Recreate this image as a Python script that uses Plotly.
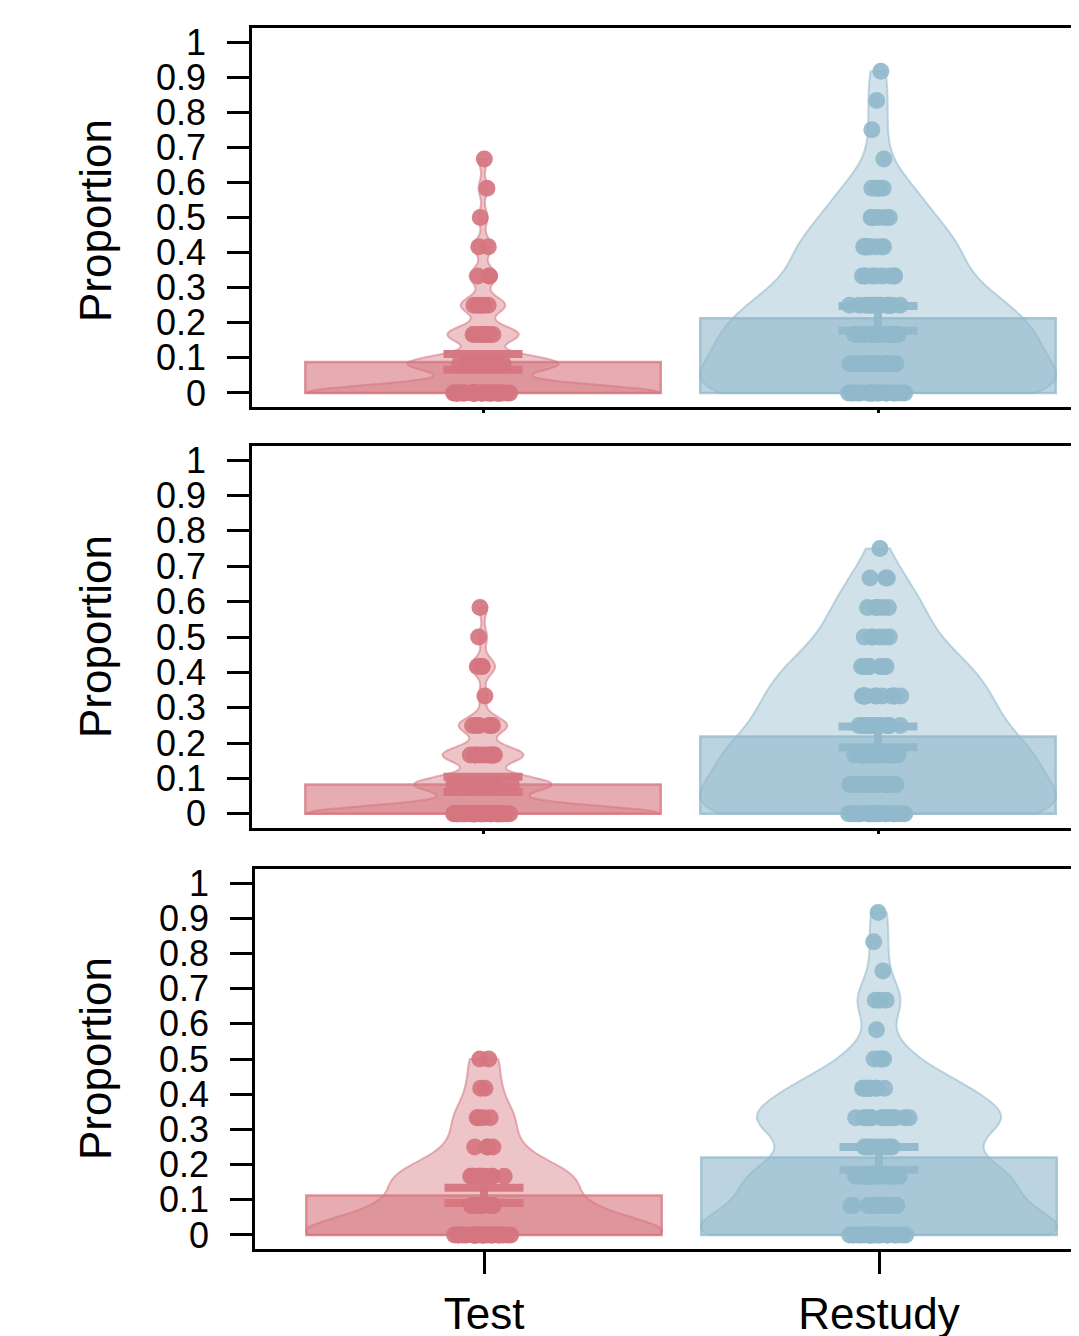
import numpy as np
import plotly.graph_objects as go

# ---------------- data ----------------
categories = ["Test", "Restudy"]
cat_pos = [1, 2]
levels = [k / 12 for k in range(12)]          # proportion levels (k / 12 items)

# number of participants at each proportion level 0/12 ... 11/12
p1_test_counts    = [40, 17, 8, 5, 3, 2, 1, 1, 1, 0, 0, 0]
p1_restudy_counts = [23, 17, 17, 14, 9, 9, 6, 4, 1, 1, 1, 1]
p2_test_counts    = [44, 17, 10, 6, 1, 3, 1, 1, 0, 0, 0, 0]
p2_restudy_counts = [23, 17, 17, 13, 12, 10, 6, 5, 3, 1, 0, 0]
p3_test_counts    = [28, 11, 12, 4, 4, 2, 2, 0, 0, 0, 0, 0]
p3_restudy_counts = [24, 15, 15, 9, 15, 10, 4, 1, 3, 1, 1, 1]

# bar heights (means) and inference intervals
test_means     = [0.088, 0.083, 0.112]
restudy_means  = [0.213, 0.219, 0.220]
test_ci_lo     = [0.066, 0.062, 0.091]
test_ci_hi     = [0.111, 0.105, 0.134]
restudy_ci_lo  = [0.177, 0.188, 0.185]
restudy_ci_hi  = [0.248, 0.247, 0.250]

y_tick_vals = [0, 0.1, 0.2, 0.3, 0.4, 0.5, 0.6, 0.7, 0.8, 0.9, 1]
y_tick_text = ["0", "0.1", "0.2", "0.3", "0.4", "0.5", "0.6", "0.7", "0.8", "0.9", "1"]
y_title = "Proportion"

# ---------------- styles ----------------
RED = (213, 117, 127)
BLUE = (144, 184, 203)
colors = [RED, BLUE]
FONT = "Liberation Sans, Arial, sans-serif"
bean_bandwidth = [[0.024, 0.062], [0.024, 0.062], [0.048, 0.052]]


def rgba(c, a):
    return f"rgba({c[0]},{c[1]},{c[2]},{a})"


panels = [
    (p1_test_counts, p1_restudy_counts),
    (p2_test_counts, p2_restudy_counts),
    (p3_test_counts, p3_restudy_counts),
]
means = list(zip(test_means, restudy_means))
ci_lo = list(zip(test_ci_lo, restudy_ci_lo))
ci_hi = list(zip(test_ci_hi, restudy_ci_hi))

fig = go.Figure()

for p, (tc, rc) in enumerate(panels):
    xa = "x" if p == 0 else f"x{p + 1}"
    ya = "y" if p == 0 else f"y{p + 1}"
    # bars (means)
    for g in range(2):
        fig.add_trace(go.Bar(
            x=[cat_pos[g]], y=[means[p][g]], width=0.9,
            marker=dict(color=rgba(colors[g], 0.6),
                        line=dict(color=rgba(colors[g], 0.75), width=2.5)),
            xaxis=xa, yaxis=ya, showlegend=False, hoverinfo="skip"))
    # beans + points
    for g, cnts in enumerate((tc, rc)):
        vals = np.repeat(levels, cnts)
        fig.add_trace(go.Violin(
            x0=cat_pos[g], y=vals, width=0.9, spanmode="hard",
            bandwidth=bean_bandwidth[p][g], scalemode="width",
            fillcolor=rgba(colors[g], 0.42),
            line=dict(color=rgba(colors[g], 0.55), width=2),
            points="all", pointpos=0, jitter=0.17,
            marker=dict(size=17, color=rgba(colors[g], 0.92), line=dict(width=0)),
            box_visible=False, meanline_visible=False,
            xaxis=xa, yaxis=ya, showlegend=False, hoverinfo="skip"))
    # inference lines
    for g in range(2):
        c = cat_pos[g]
        lo, hi = ci_lo[p][g], ci_hi[p][g]
        fig.add_trace(go.Scatter(
            x=[c - 0.1, c + 0.1, None, c - 0.1, c + 0.1, None, c, c],
            y=[lo, lo, None, hi, hi, None, lo, hi],
            mode="lines", line=dict(color=rgba(colors[g], 0.95), width=8),
            xaxis=xa, yaxis=ya, showlegend=False, hoverinfo="skip"))

OFF = 8                      # page body margin of the html
W, H = 1079 - OFF, 1336 - OFF
panel_px = [(28, 407), (446, 828), (869, 1249)]
x_left_px = [252, 252, 255]
title_centers = [221, 637, 1059]

layout = dict(
    width=W, height=H, template="none",
    margin=dict(l=0, r=0, t=0, b=0),
    paper_bgcolor="white", plot_bgcolor="white",
    font=dict(family=FONT, color="black"),
    violinmode="overlay", barmode="overlay",
    showlegend=False,
)

annotations = []
for p, (top, bot) in enumerate(panel_px):
    sx = "" if p == 0 else str(p + 1)
    left = x_left_px[p]
    x1_px = 483 if p < 2 else 484
    x0 = 1 - (x1_px - left) / 395
    x1 = 2 + (1079 - (x1_px + 395)) / 395
    is_last = p == 2
    layout["xaxis" + sx] = dict(
        domain=[(left - OFF) / W, 1], range=[x0, x1], type="linear",
        anchor="y" + sx, showline=True, mirror=True, linecolor="black",
        linewidth=2.5, showgrid=False, zeroline=False,
        tickvals=cat_pos, ticktext=categories, ticks="outside",
        ticklen=22 if is_last else 3, tickwidth=2.5, tickcolor="black",
        showticklabels=is_last, tickfont=dict(size=44, family=FONT, color="black"),
        ticklabelstandoff=2,
    )
    layout["yaxis" + sx] = dict(
        domain=[1 - (bot - OFF) / H, 1 - (top - OFF) / H], range=[-0.04, 1.04],
        anchor="x" + sx, showline=True, mirror=False, linecolor="black",
        linewidth=2.5, showgrid=False, zeroline=False,
        tickvals=y_tick_vals, ticktext=y_tick_text, ticks="outside",
        ticklen=22, tickwidth=2.5, tickcolor="black",
        tickfont=dict(size=36, family=FONT, color="black"),
        ticklabelstandoff=14,
    )
    annotations.append(dict(
        text=y_title, textangle=-90, showarrow=False,
        xref="paper", yref="paper", x=(95 - OFF) / W, y=1 - (title_centers[p] - OFF) / H,
        xanchor="center", yanchor="middle",
        font=dict(size=44, family=FONT, color="black")))

layout["annotations"] = annotations
fig.update_layout(**layout)
fig.write_html("out.html")
